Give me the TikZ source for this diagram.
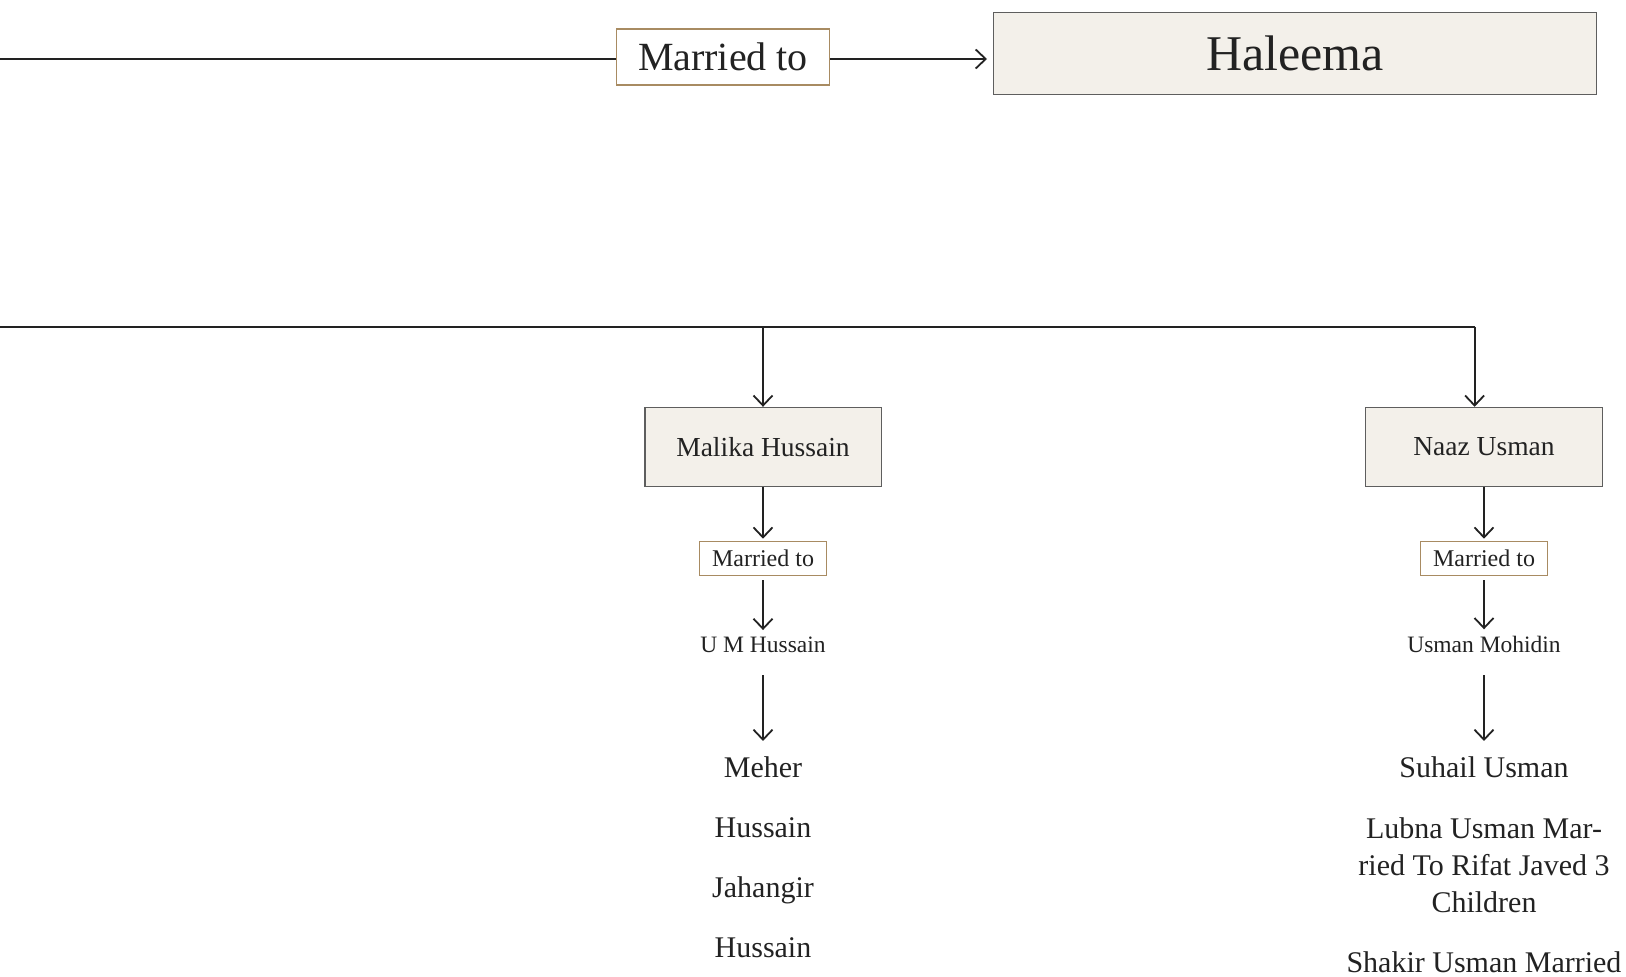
\documentclass[tikz,border=0pt]{standalone}
\usepackage{fontspec}
\setmainfont{Liberation Serif}
\usetikzlibrary{arrows.meta}
\definecolor{boxfill}{HTML}{F3F0EA}
\definecolor{boxline}{HTML}{5E5E5E}
\definecolor{tanline}{HTML}{A88B62}
\definecolor{ink}{HTML}{222222}
\begin{document}
\begin{tikzpicture}[x=1pt,y=-1pt,
  person/.style={draw=boxline, fill=boxfill, line width=1.4pt, text=ink, inner sep=0pt},
  marbox/.style={draw=tanline, fill=white, line width=1.4pt, text=ink, inner sep=0pt},
  plain/.style={text=ink, inner sep=0pt, anchor=base},
  bar/.style={draw=ink, line width=1.8pt},
  conn/.style={draw=ink, line width=1.8pt, -{Straight Barb[length=10pt,width=19pt,line width=1.8pt]}}
]
\useasboundingbox (0,0) rectangle (1626,977);
\clip (0,0) rectangle (1626,977);

% top row
\node[marbox, minimum width=212.6pt, minimum height=56pt, font=\fontsize{40}{48}\selectfont] (m0) at (723,57) {Married to};
\node[person, minimum width=603.5pt, minimum height=82pt, font=\fontsize{50}{60}\selectfont] (hal) at (1295,53.4) {Haleema};
\coordinate (l0) at (0,59);
\coordinate (hin) at (987,59);
\draw[bar] (l0) -- (l0 -| m0.west);
\draw[conn] (m0.east |- l0) -- (hin);

% bar
\coordinate (b0) at (0,326.7);
\coordinate (b1) at (1474.6,326.7);
\coordinate (bm) at (763,326.7);
\draw[bar] (b0) -- (b1);

% Malika column
\node[person, minimum width=236.4pt, minimum height=79pt, font=\fontsize{27.5}{33}\selectfont] (mal) at (763,447) {Malika Hussain};
\node[marbox, minimum width=126.5pt, minimum height=34pt, font=\fontsize{24}{29}\selectfont] (mm) at (763,558.4) {Married to};
\node[plain, font=\fontsize{23.5}{28}\selectfont] (umh) at (763,652.8) {U M Hussain};
\node[plain, font=\fontsize{30}{37}\selectfont] (c1) at (763,777) {Meher};
\node[plain, font=\fontsize{30}{37}\selectfont] (c2) at (763,837.4) {Hussain};
\node[plain, font=\fontsize{30}{37}\selectfont] (c3) at (763,897.5) {Jahangir};
\node[plain, font=\fontsize{30}{37}\selectfont] (c4) at (763,957.7) {Hussain};
\draw[conn] (bm) -- (bm |- mal.north);
\draw[conn, shorten >=2pt] (mal.south) -- (mm.north);
\draw[conn, shorten <=4pt, shorten >=7pt] (mm.south) -- (umh.north);
\draw[conn, shorten <=22pt, shorten >=15pt] (umh.south) -- (c1.north);

% Naaz column
\node[person, minimum width=237.5pt, minimum height=79pt, font=\fontsize{27.5}{33}\selectfont] (naaz) at (1484,447) {Naaz Usman};
\node[marbox, minimum width=127.5pt, minimum height=34pt, font=\fontsize{24}{29}\selectfont] (nm) at (1484,558.4) {Married to};
\node[plain, font=\fontsize{23.5}{28}\selectfont] (umo) at (1484,652.8) {Usman Mohidin};
\node[plain, font=\fontsize{30}{37}\selectfont] (s1) at (1484,777) {Suhail Usman};
\node[plain, font=\fontsize{30}{37}\selectfont, align=center] (s2) at (1484,912) {Lubna Usman Mar-\\ried To Rifat Javed 3\\Children};
\node[plain, font=\fontsize{30}{37}\selectfont] (s3) at (1484,972.7) {Shakir Usman Married};
\draw[conn] (b1) -- (b1 |- naaz.north);
\draw[conn, shorten >=2pt] (naaz.south) -- (nm.north);
\draw[conn, shorten <=4pt, shorten >=7pt] (nm.south) -- (umo.north);
\draw[conn, shorten <=22pt, shorten >=15pt] (umo.south) -- (s1.north);
\end{tikzpicture}
\end{document}
